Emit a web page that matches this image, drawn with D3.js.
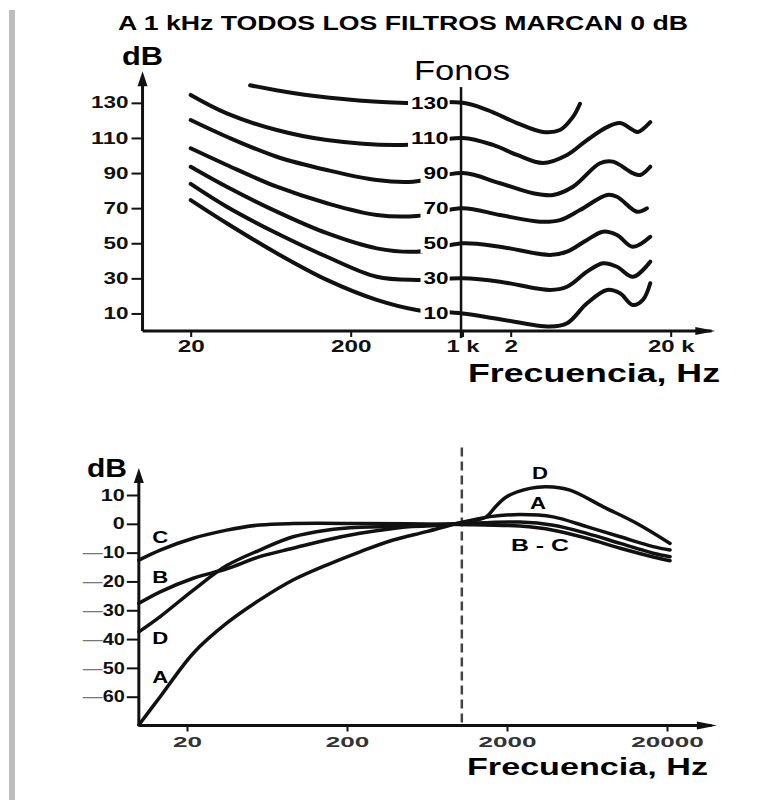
<!DOCTYPE html>
<html>
<head>
<meta charset="utf-8">
<script src="https://cdnjs.cloudflare.com/ajax/libs/d3/7.8.5/d3.min.js"></script>
<style>
  body { margin: 0; background: #fff; }
  svg { display: block; font-family: "Liberation Sans", Arial, sans-serif; }
  .tick text { font-weight: bold; font-size: 16px; fill: #111; }
  .tick line { stroke: #111; stroke-width: 2; }
</style>
</head>
<body>
<svg id="chart" width="772" height="808"></svg>
<script>
// ---- Top chart: equal loudness contours, points are [Hz, dB] ----
const phonLevels = [130, 110, 90, 70, 50, 30, 10];
const phon130 = [[47,140],[87,135.6],[179,132.2],[406,130],[1000,130],[1422,126],[2190,118.5],[3180,113.4],[4060,114.5],[4900,122],[5420,129.5]];
const phon110 = [[20,134.5],[33.6,124],[69,114.5],[142,108.8],[424,106],[1000,110],[1550,106],[2190,100.3],[3180,95.7],[4500,100.3],[6000,108.8],[8000,116.2],[9640,118.5],[11600,114.5],[12500,113.4],[14900,119]];
const phon90 = [[20,120.2],[33.6,110.7],[69,99.3],[142,91.7],[291,86],[490,85.1],[1000,90],[1714,84.2],[2760,78.5],[3670,77.5],[4900,82.2],[7230,95.6],[8720,96.5],[11600,89.9],[12900,88.9],[14900,93.6]];
const phon70 = [[20,104.1],[33.6,94.6],[69,82.2],[142,72.8],[291,66.1],[517,65.5],[1000,70],[1714,66.1],[3050,62.3],[4060,63.2],[5420,68.9],[8000,77.5],[9230,76.5],[12300,68],[14200,69.9]];
const phon50 = [[20,93.6],[33.6,82.2],[69,68],[142,55.7],[291,47.1],[517,45.2],[1000,50],[1714,48],[3520,43.3],[4500,45.2],[6000,51.9],[7550,56.6],[9230,54.7],[11600,48],[14900,53.7]];
const phon30 = [[20,83.8],[33.6,70.8],[69,55.7],[142,42.3],[291,30.9],[517,29.1],[1000,30],[1714,28.1],[3520,23.4],[4500,25.2],[6000,33.8],[7550,38.6],[9230,36.6],[11600,30.9],[14900,39.5]];
const phon10 = [[20,74.6],[33.6,61.4],[69,44.3],[142,29.1],[291,17.7],[517,12],[1000,10],[1714,6.7],[3520,2.5],[4500,4.4],[6000,15.8],[8000,23.4],[9640,21.5],[11600,14.8],[13400,17.7],[14900,27.2]];
const phonCurves = [phon130, phon110, phon90, phon70, phon50, phon30, phon10];

const topYTicks = [10, 30, 50, 70, 90, 110, 130];
const topXTicks = [20, 200, 1000, 2000, 20000];
const topXTickLabels = ["20", "200", "1 k", "2", "20 k"];

// ---- Bottom chart: weighting filters A, B, C, D ----
const weightA = [[10,-69.8],[13.6,-60],[21.9,-44.9],[35.4,-34.5],[57,-26.4],[92,-19.5],[149,-14.3],[241,-9.7],[389,-5.6],[629,-2.7],[1000,0.3],[1566,2.5],[2410,3.2],[3890,2.4],[6300,-1],[10200,-4.5],[16400,-7.9],[20900,-9.1]];
const weightB = [[10,-27.6],[13.6,-23.6],[21.9,-18.9],[35.4,-15.6],[57,-11.4],[92,-8.5],[149,-5.6],[241,-3.3],[389,-1.6],[629,-0.4],[1000,0],[2410,0.6],[3890,-0.5],[6300,-3.3],[10200,-6.8],[16400,-10.2],[20900,-11.4]];
const weightC = [[10,-12.6],[13.6,-9.1],[21.9,-5],[35.4,-2.2],[57,-0.4],[92,0.1],[250,0.1],[1000,-0.2],[2410,-0.8],[3890,-2.2],[6300,-5],[10200,-8.5],[16400,-11.5],[20900,-12.8]];
const weightD = [[10,-37.5],[13.6,-32.2],[21.9,-23],[35.4,-14.5],[57,-9.1],[92,-4.5],[149,-2.2],[241,-1.2],[389,-1],[629,-0.8],[1000,0.2],[1480,2.4],[1700,6],[1990,9.4],[2780,12.3],[3540,12.9],[4950,11.7],[8000,5.9],[12900,0.2],[20900,-6.8]];
const weightCurves = [weightA, weightB, weightC, weightD];

const bottomYTicks = [10, 0, -10, -20, -30, -40, -50, -60];
const bottomXTicks = [20, 200, 2000, 20000];

// curve letters, placed at [Hz, dB]
const filterLabels = [
  {text: "C", at: [13.6, -4.6]}, {text: "B", at: [13.6, -18.5]},
  {text: "D", at: [13.6, -39.6]}, {text: "A", at: [13.6, -53.2]},
  {text: "D", at: [3216, 17.6]}, {text: "A", at: [3120, 7.2]},
  {text: "B - C", at: [3216, -7.4]}
];

var svg = d3.select("#chart");

// scales
var xT = d3.scaleLog().domain([20, 20000]).range([190.7, 670.7]);
var yT = d3.scaleLinear().domain([0, 140]).range([331, 85.3]);
var xB = d3.scaleLog().domain([20, 20000]).range([187, 667]);
var yB = d3.scaleLinear().domain([-60, 10]).range([696.7, 495]);

// the print face is wide, so stretch glyphs to the measured width
function fit(sel, width) {
  sel.attr("textLength", width).attr("lengthAdjust", "spacingAndGlyphs");
}
function fitTicks(axisG, perChar) {
  axisG.selectAll(".tick text").each(function() {
    var s = d3.select(this).text();
    var w = 0;
    for (var c of s) w += (c === " ") ? perChar * 0.45 : perChar;
    fit(d3.select(this), w);
  });
}

// grey margin bar on the left
svg.append("rect").attr("x", 9).attr("y", 10).attr("width", 6).attr("height", 790)
  .attr("fill", "#bdbdbd");

// title
svg.append("text").attr("x", 118).attr("y", 30)
  .style("font-size", "21px").style("font-weight", "bold")
  .text("A 1 kHz TODOS LOS FILTROS MARCAN 0 dB")
  .call(fit, 570);

function arrowUp(x, y) {
  svg.append("path").attr("d", "M" + x + "," + y + "L" + (x - 5) + "," + (y + 15) +
    "L" + (x + 5) + "," + (y + 15) + "Z").attr("fill", "#111");
}
function arrowRight(x, y) {
  svg.append("path").attr("d", "M" + x + "," + y + "L" + (x - 20) + "," + (y - 4) +
    "L" + (x - 20) + "," + (y + 4) + "Z").attr("fill", "#111");
}

// ---------- top chart ----------
var topG = svg.append("g");

var yAxisT = topG.append("g").attr("transform", "translate(" + xT(10) + ",0)")
  .call(d3.axisLeft(yT).tickValues(topYTicks).tickSize(11).tickPadding(3));
yAxisT.select(".domain").remove();
fitTicks(yAxisT, 12.5);

var xAxisT = topG.append("g").attr("transform", "translate(0," + yT(0) + ")")
  .call(d3.axisBottom(xT).tickValues(topXTicks).tickSize(6).tickPadding(4)
    .tickFormat(function(d, i) { return topXTickLabels[i]; }));
xAxisT.select(".domain").remove();
fitTicks(xAxisT, 13.5);

// axis lines
topG.append("line").attr("x1", xT(10)).attr("x2", xT(10))
  .attr("y1", yT(0)).attr("y2", yT(145)).attr("stroke", "#111").attr("stroke-width", 3);
topG.append("line").attr("x1", xT(10)).attr("x2", xT(36000))
  .attr("y1", yT(0)).attr("y2", yT(0)).attr("stroke", "#111").attr("stroke-width", 3);
arrowUp(xT(10), yT(148));
arrowRight(xT(38000), yT(0));

// 1 kHz reference line
topG.append("line").attr("x1", xT(1000) - 1.5).attr("x2", xT(1000) - 1.5)
  .attr("y1", yT(139)).attr("y2", yT(-4)).attr("stroke", "#111").attr("stroke-width", 2.5);

var lineT = d3.line()
  .x(function(d) { return xT(d[0]); })
  .y(function(d) { return yT(d[1]); })
  .curve(d3.curveCatmullRom.alpha(0.5));

topG.selectAll("path.phon").data(phonCurves).enter().append("path")
  .attr("class", "phon").attr("d", lineT)
  .attr("fill", "none").attr("stroke", "#111").attr("stroke-width", 4)
  .attr("stroke-linecap", "round");

// phon labels at 1 kHz, on a white patch
phonLevels.forEach(function(p) {
  var g = topG.append("g");
  var t = g.append("text").attr("x", xT(1000) - 14).attr("y", yT(p)).attr("dy", "0.36em")
    .attr("text-anchor", "end")
    .style("font-size", "16px").style("font-weight", "bold")
    .text(p)
    .call(fit, String(p).length * 12.5);
  var b = t.node().getBBox();
  g.insert("rect", "text").attr("x", b.x - 3).attr("y", b.y - 1)
    .attr("width", b.width + 4).attr("height", b.height + 2).attr("fill", "#fff");
});

topG.append("text").attr("x", 122).attr("y", 65)
  .style("font-size", "25px").style("font-weight", "bold")
  .text("dB").call(fit, 41);
topG.append("text").attr("x", 414).attr("y", 80)
  .style("font-size", "27px")
  .text("Fonos").call(fit, 96);
topG.append("text").attr("x", 720).attr("y", 382).attr("text-anchor", "end")
  .style("font-size", "26px").style("font-weight", "bold")
  .text("Frecuencia, Hz").call(fit, 252);

// ---------- bottom chart ----------
var botG = svg.append("g");

var yAxisB = botG.append("g").attr("transform", "translate(" + xB(10) + ",0)")
  .call(d3.axisLeft(yB).tickValues(bottomYTicks).tickSize(12).tickPadding(2)
    .tickFormat(function(d) { return Math.abs(d); }));
yAxisB.select(".domain").remove();
fitTicks(yAxisB, 12);
// long grey dash in front of negative values
yAxisB.selectAll(".tick text").each(function(d) {
  if (d < 0) {
    var t = d3.select(this), v = Math.abs(d);
    t.text(null).attr("textLength", 42);
    t.append("tspan").attr("fill", "#777").attr("font-weight", "normal").text("\u2014");
    t.append("tspan").text(v);
  }
});

var xAxisB = botG.append("g").attr("transform", "translate(0," + yB(-70) + ")")
  .call(d3.axisBottom(xB).tickValues(bottomXTicks).tickSize(6).tickPadding(5)
    .tickFormat(d3.format("d")));
xAxisB.select(".domain").remove();
xAxisB.selectAll(".tick text").style("fill", "#333").style("font-size", "15px");
fitTicks(xAxisB, 14.5);

botG.append("line").attr("x1", xB(10)).attr("x2", xB(10))
  .attr("y1", yB(-70)).attr("y2", yB(17)).attr("stroke", "#111").attr("stroke-width", 3);
botG.append("line").attr("x1", xB(10)).attr("x2", xB(38000))
  .attr("y1", yB(-70)).attr("y2", yB(-70)).attr("stroke", "#111").attr("stroke-width", 3);
arrowUp(xB(10), yB(19.4));
arrowRight(xB(41000), yB(-70));

// dashed 1 kHz line
botG.append("line").attr("x1", xB(1000) + 3).attr("x2", xB(1000) + 3)
  .attr("y1", yB(26.5)).attr("y2", yB(-70)).attr("stroke", "#444").attr("stroke-width", 2.5)
  .attr("stroke-dasharray", "9,5");

var lineB = d3.line()
  .x(function(d) { return xB(d[0]); })
  .y(function(d) { return yB(d[1]); })
  .curve(d3.curveCatmullRom.alpha(0.5));

botG.selectAll("path.weight").data(weightCurves).enter().append("path")
  .attr("class", "weight").attr("d", lineB)
  .attr("fill", "none").attr("stroke", "#111").attr("stroke-width", 3.5)
  .attr("stroke-linecap", "round");

botG.selectAll("text.flabel").data(filterLabels).enter().append("text")
  .attr("class", "flabel")
  .attr("x", function(d) { return xB(d.at[0]); })
  .attr("y", function(d) { return yB(d.at[1]); })
  .attr("dy", "0.36em").attr("text-anchor", "middle")
  .style("font-size", "17px").style("font-weight", "bold")
  .text(function(d) { return d.text; })
  .each(function(d) {
    fit(d3.select(this), d.text.length > 1 ? 58 : 16);
  });

botG.append("text").attr("x", 127).attr("y", 477).attr("text-anchor", "end")
  .style("font-size", "25px").style("font-weight", "bold")
  .text("dB").call(fit, 40);
botG.append("text").attr("x", 708).attr("y", 775).attr("text-anchor", "end")
  .style("font-size", "24px").style("font-weight", "bold")
  .text("Frecuencia, Hz").call(fit, 241);
</script>
</body>
</html>
